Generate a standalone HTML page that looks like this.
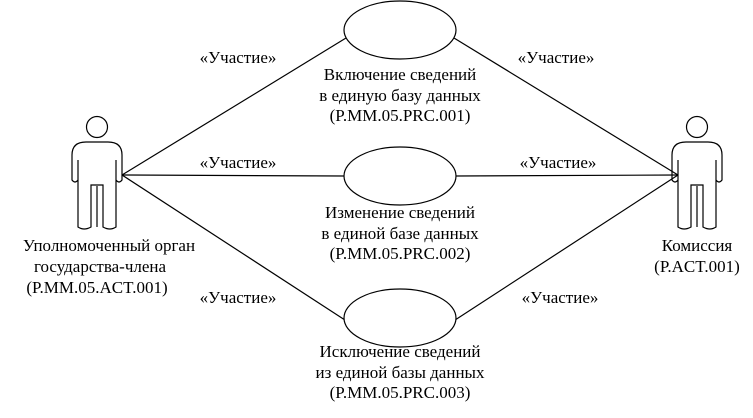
<!DOCTYPE html>
<html><head><meta charset="utf-8"><style>
html,body{margin:0;padding:0;background:#fff;}
svg{display:block;}
</style></head><body>
<svg width="753" height="418" viewBox="0 0 753 418" xmlns="http://www.w3.org/2000/svg">
<g stroke="#000" stroke-width="1.2" fill="none">
<line x1="122" y1="175" x2="346" y2="38"/>
<line x1="122" y1="175" x2="344" y2="176"/>
<line x1="122" y1="175" x2="348" y2="322"/>
<line x1="678" y1="175" x2="454" y2="38"/>
<line x1="678" y1="175" x2="456" y2="176"/>
<line x1="678" y1="175" x2="452" y2="322"/>
<ellipse cx="400" cy="30" rx="56" ry="29" fill="#fff"/>
<ellipse cx="400" cy="176" rx="56" ry="29" fill="#fff"/>
<ellipse cx="400" cy="318" rx="56" ry="29" fill="#fff"/>
<g id="actor">
<circle cx="97" cy="127" r="10.5"/>
<path d="M86,142 L108,142 Q122,142 122,155 L122,180 Q119,184 116,180 L116,160 L116,227 Q110,231 103,227 L103,185 L91,185 L91,227 Q84,231 78,227 L78,160 L78,180 Q75,184 72,180 L72,155 Q72,142 86,142 Z"/>
<line x1="97" y1="186" x2="97" y2="227"/>
</g>
<use href="#actor" transform="translate(600,0)"/>
</g>
<g text-anchor="middle" font-family="'Liberation Serif','DejaVu Serif',serif" font-size="17" fill="#000">
<text x="238" y="63">«Участие»</text>
<text x="238" y="168">«Участие»</text>
<text x="238" y="303">«Участие»</text>
<text x="556" y="63">«Участие»</text>
<text x="558" y="168">«Участие»</text>
<text x="560" y="303">«Участие»</text>
<text x="400" y="80">Включение сведений</text>
<text x="400" y="101">в единую базу данных</text>
<text x="400" y="121">(P.MM.05.PRC.001)</text>
<text x="400" y="218">Изменение сведений</text>
<text x="400" y="239">в единой базе данных</text>
<text x="400" y="259">(P.MM.05.PRC.002)</text>
<text x="400" y="357">Исключение сведений</text>
<text x="400" y="378">из единой базы данных</text>
<text x="400" y="398">(P.MM.05.PRC.003)</text>
<text x="109" y="251">Уполномоченный орган</text>
<text x="100" y="272">государства-члена</text>
<text x="97" y="293">(P.MM.05.ACT.001)</text>
<text x="697" y="251">Комиссия</text>
<text x="697" y="272">(P.ACT.001)</text>
</g>
</svg>
</body></html>
